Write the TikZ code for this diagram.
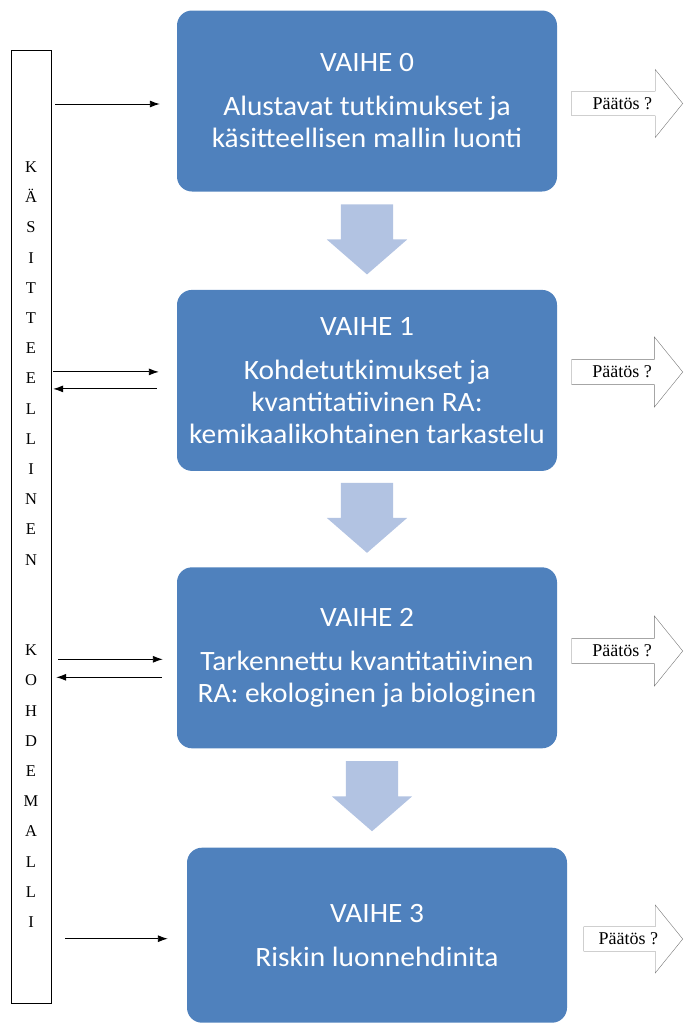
\documentclass[tikz,border=0pt]{standalone}
\usepackage{fontspec}
\newfontfamily\stagefont[FakeStretch=1.05]{Carlito}
\newfontfamily\notefont{Liberation Serif}
\usepackage{tikz}
\usetikzlibrary{shapes, arrows, arrows.meta, positioning, calc}

\definecolor{stageblue}{RGB}{79,129,189}
\definecolor{flowblue}{RGB}{178,195,226}
\definecolor{notegray}{RGB}{120,120,120}

\begin{document}
\begin{tikzpicture}[
    x=1pt, y=-1pt,
    stage/.style={rectangle, rounded corners=15pt, fill=stageblue, text=white, minimum width=380pt, minimum height=181pt, align=center, font=\stagefont\fontsize{28}{32}\selectfont},
    flow/.style={single arrow, fill=flowblue, minimum height=70pt, minimum width=80pt, single arrow head extend=14pt, single arrow tip angle=98, inner xsep=0pt, inner ysep=26pt, rotate=-90, anchor=tip},
    decision/.style={single arrow, draw=notegray, fill=white, minimum height=111pt, minimum width=68pt, single arrow head extend=17pt, single arrow tip angle=102, anchor=tip, font=\notefont\fontsize{18}{20}\selectfont},
    model/.style={rectangle, draw, minimum width=40pt, minimum height=953pt},
    letters/.style={align=center, font=\notefont\fontsize{16.5}{30.2}\selectfont},
    link/.style={-{Latex[length=10pt, width=7pt]}, line width=0.9pt}
]
    \useasboundingbox (0,0) rectangle (684,1023);

    % Stages
    \node [stage] (vaihe0) at (367,101) {VAIHE 0\\[12pt]Alustavat tutkimukset ja\\käsitteellisen mallin luonti};
    \node [stage, below=98pt of vaihe0] (vaihe1) {VAIHE 1\\[12pt]Kohdetutkimukset ja\\kvantitatiivinen RA:\\kemikaalikohtainen tarkastelu};
    \node [stage, below=96pt of vaihe1] (vaihe2) {VAIHE 2\\[12pt]Tarkennettu kvantitatiivinen\\RA: ekologinen ja biologinen};
    \node [stage, below=99pt of vaihe2, xshift=10pt, minimum height=175pt] (vaihe3) {VAIHE 3\\[12pt]Riskin luonnehdinita};

    % Flow between stages
    \node [flow] (nuoli0) at ([yshift=15pt]vaihe1.north) {};
    \node [flow] (nuoli1) at ([yshift=14pt]vaihe2.north) {};
    \node [flow] (nuoli2) at ([xshift=-5pt, yshift=16pt]vaihe3.north) {};

    % Decisions
    \node [decision] (paatos0) at (683,103.5) {Päätös ?};
    \node [decision, minimum width=70pt] (paatos1) at (683,372) {Päätös ?};
    \node [decision, minimum width=70pt] (paatos2) at (683,651) {Päätös ?};
    \node [decision, minimum height=99pt] (paatos3) at (683,939) {Päätös ?};

    % Conceptual site model
    \node [model] (kohde) at (31,526.5) {};
    \node [letters] (sana) at (31,544.5) {K\\Ä\\S\\I\\T\\T\\E\\E\\L\\L\\I\\N\\E\\N\\[60.4pt]K\\O\\H\\D\\E\\M\\A\\L\\L\\I};

    % Model to stages
    \coordinate (in0) at ([xshift=-17pt, yshift=-3pt]vaihe0.west);
    \coordinate (in1) at ([xshift=-18pt, yshift=8.5pt]vaihe1.west);
    \coordinate (out1) at ([xshift=-20pt, yshift=-8.5pt]vaihe1.west);
    \coordinate (in2) at ([xshift=-14pt, yshift=-1.5pt]vaihe2.west);
    \coordinate (out2) at ([xshift=-15pt, yshift=-19.5pt]vaihe2.west);
    \coordinate (in3) at ([xshift=-19pt, yshift=-3.5pt]vaihe3.west);

    \draw [link, shorten <=4pt] (kohde.east |- in0) -- (in0);
    \draw [link, shorten <=2pt] (kohde.east |- in1) -- (in1);
    \draw [link, shorten >=2pt] (out1) -- (kohde.east |- out1);
    \draw [link, shorten <=7pt] (kohde.east |- in2) -- (in2);
    \draw [link, shorten >=5pt] (out2) -- (kohde.east |- out2);
    \draw [link, shorten <=14pt] (kohde.east |- in3) -- (in3);
\end{tikzpicture}
\end{document}
